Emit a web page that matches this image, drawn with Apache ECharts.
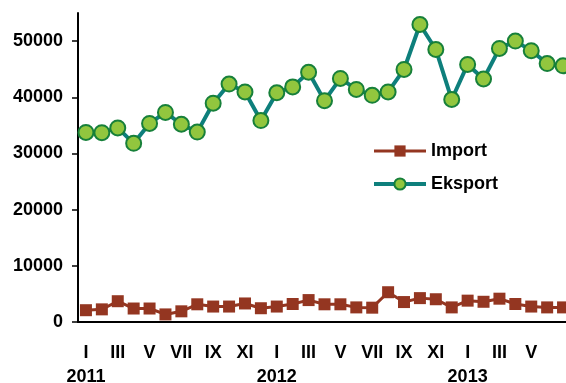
<!DOCTYPE html>
<html>
<head>
<meta charset="utf-8">
<script src="https://cdn.jsdelivr.net/npm/echarts@6/dist/echarts.min.js"></script>
<style>
  html, body { margin: 0; padding: 0; background: #fff; }
  #chart { width: 566px; height: 383px; }
</style>
</head>
<body>
<div id="chart"></div>
<script>
// months Jan 2011 .. Jul 2013
const categories = [
  'I', 'II', 'III', 'IV', 'V', 'VI', 'VII', 'VIII', 'IX', 'X', 'XI', 'XII',
  'I', 'II', 'III', 'IV', 'V', 'VI', 'VII', 'VIII', 'IX', 'X', 'XI', 'XII',
  'I', 'II', 'III', 'IV', 'V', 'VI', 'VII'
]
const years = ['2011', '2012', '2013']
const importData = [
  2100, 2250, 3700, 2400, 2400, 1350, 1900, 3150, 2750, 2750, 3300, 2450,
  2750, 3200, 3900, 3150, 3150, 2600, 2550, 5300, 3550, 4250, 4050, 2600,
  3800, 3600, 4150, 3200, 2750, 2600, 2600
]
const eksportData = [
  33750, 33700, 34550, 31800, 35350, 37300, 35200, 33800, 38950, 42350, 40950, 35850,
  40800, 41850, 44450, 39400, 43350, 41400, 40350, 40950, 44950, 52950, 48500, 39600,
  45850, 43250, 48700, 50000, 48300, 46000, 45600
]
const yTicks = [0, 10000, 20000, 30000, 40000, 50000]

const chart = echarts.init(document.getElementById('chart'))
const font = 'Liberation Sans, Arial, sans-serif'
const importColor = '#943621'
const eksportColor = '#0E7F7C'

chart.setOption({
  animation: false,
  grid: {
    left: 78,
    right: -5,
    top: 13,
    bottom: 61,
    outerBoundsMode: 'none'
  },
  legend: {
    orient: 'vertical',
    left: 367,
    top: 137,
    itemWidth: 52,
    itemHeight: 14,
    itemGap: 15,
    textStyle: {
      fontFamily: font,
      fontWeight: 'bold',
      fontSize: 18,
      color: '#000'
    },
    data: [
      { name: 'Import', lineStyle: { width: 3, color: importColor } },
      { name: 'Eksport', lineStyle: { width: 4, color: eksportColor } }
    ]
  },
  xAxis: {
    type: 'category',
    data: categories,
    boundaryGap: true,
    axisLine: { lineStyle: { color: '#000', width: 2 } },
    axisTick: { interval: 0, length: 6, lineStyle: { color: '#000', width: 1.5 } },
    axisLabel: {
      interval: (i) => i % 2 === 0 && i < 30,
      margin: 19,
      lineHeight: 24,
      fontFamily: font,
      fontWeight: 'bold',
      fontSize: 18,
      color: '#000',
      formatter: (v, i) => (i % 12 === 0 ? v + '\n' + years[i / 12] : v)
    }
  },
  yAxis: {
    type: 'value',
    min: 0,
    max: 55000,
    interval: 10000,
    splitLine: { show: false },
    axisLine: { show: true, lineStyle: { color: '#000', width: 2 } },
    axisTick: { show: true, length: 6, customValues: yTicks, lineStyle: { color: '#000', width: 1.5 } },
    axisLabel: {
      customValues: yTicks,
      margin: 15,
      fontFamily: font,
      fontWeight: 'bold',
      fontSize: 18,
      color: '#000',
      formatter: (v) => String(v)
    }
  },
  series: [
    {
      name: 'Import',
      type: 'line',
      data: importData,
      symbol: 'rect',
      symbolSize: 12,
      showAllSymbol: true,
      lineStyle: { color: importColor, width: 3 },
      itemStyle: { color: importColor }
    },
    {
      name: 'Eksport',
      type: 'line',
      data: eksportData,
      symbol: 'circle',
      symbolSize: 15,
      showAllSymbol: true,
      lineStyle: { color: eksportColor, width: 4 },
      itemStyle: { color: '#92C63E', borderColor: '#17803A', borderWidth: 2 }
    }
  ]
})
</script>
</body>
</html>
